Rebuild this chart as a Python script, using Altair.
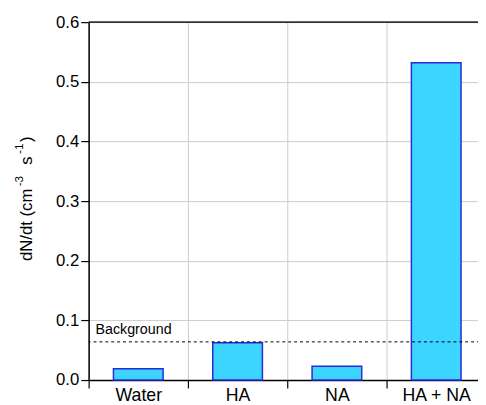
import altair as alt
import pandas as pd

categories = ["Water", "HA", "NA", "HA + NA"]
rates = [0.019, 0.0625, 0.023, 0.532]
background_level = [0.064]
background_label = ["Background"]
y_ticks = [0.0, 0.1, 0.2, 0.3, 0.4, 0.5, 0.6]

# y-axis title pieces (main text and superscripts)
title_main = ["dN/dt (cm", "s", ")"]
title_sup = ["-3", "-1"]

FONT = "Liberation Sans"

df = pd.DataFrame({"sample": categories, "rate": rates})
bg = pd.DataFrame({"level": background_level, "label": background_label})

x_enc = alt.X(
    "sample:N",
    sort=categories,
    scale=alt.Scale(paddingInner=0, paddingOuter=0),
    axis=alt.Axis(
        title=None, tickBand="extent", labelAngle=0, labelFontSize=18,
        labelColor="black", labelPadding=-1, tickSize=8, tickColor="black",
        tickWidth=1.2, domainColor="black", domainWidth=1.5, grid=True,
        gridColor="#cccccc", gridWidth=1, labelFont=FONT,
    ),
)
y_enc = alt.Y(
    "rate:Q",
    scale=alt.Scale(domain=[0, 0.6], nice=False),
    axis=alt.Axis(
        values=y_ticks, format=".1f", title=None,
        labelFontSize=17, labelFont=FONT, labelColor="black", labelPadding=2,
        tickSize=8, tickColor="black", tickWidth=1.2, domainColor="black",
        domainWidth=1.5, grid=True, gridColor="#cccccc", gridWidth=1,
    ),
)

bars = alt.Chart(df).mark_bar(
    width=alt.RelativeBandSize(0.5), fill="#3BD5FF", stroke="#2A2AD8", strokeWidth=1.5
).encode(x=x_enc, y=y_enc)

bg_rule = alt.Chart(bg).mark_rule(color="black", strokeDash=[3, 3], strokeWidth=1).encode(
    y=alt.Y("level:Q")
)
bg_text = alt.Chart(bg).mark_text(
    align="left", baseline="alphabetic", dy=-8, fontSize=14.5, font=FONT, color="black"
).encode(x=alt.value(7), y=alt.Y("level:Q"), text="label:N")

top_frame = alt.Chart(pd.DataFrame({"top": [0.6]})).mark_rule(color="#333333", strokeWidth=2).encode(
    y=alt.Y("top:Q")
)


def title_piece(text, xpos, ypos, size):
    return alt.Chart(pd.DataFrame({"t": [text]})).mark_text(
        angle=270, align="left", baseline="alphabetic", fontSize=size, font=FONT, color="black"
    ).encode(x=alt.value(xpos), y=alt.value(ypos), text="t:N")


title_layers = [
    title_piece(title_main[0], -58, 243, 17),
    title_piece(title_sup[0], -67, 167, 12),
    title_piece(title_main[1], -58, 145, 17),
    title_piece(title_sup[1], -67, 134, 12),
    title_piece(title_main[2], -58, 122, 17),
]

# the plot area runs 8px past the right edge of the picture, as in the reference
chart = alt.layer(bars, bg_rule, bg_text, top_frame, *title_layers).properties(
    width=404, height=364,
    autosize=alt.AutoSizeParams(type="none"),
    padding={"left": 82, "top": 11, "right": -8, "bottom": 22},
).configure_view(stroke=None)

chart.save("out.html", embed_options={"renderer": "svg", "actions": False})
